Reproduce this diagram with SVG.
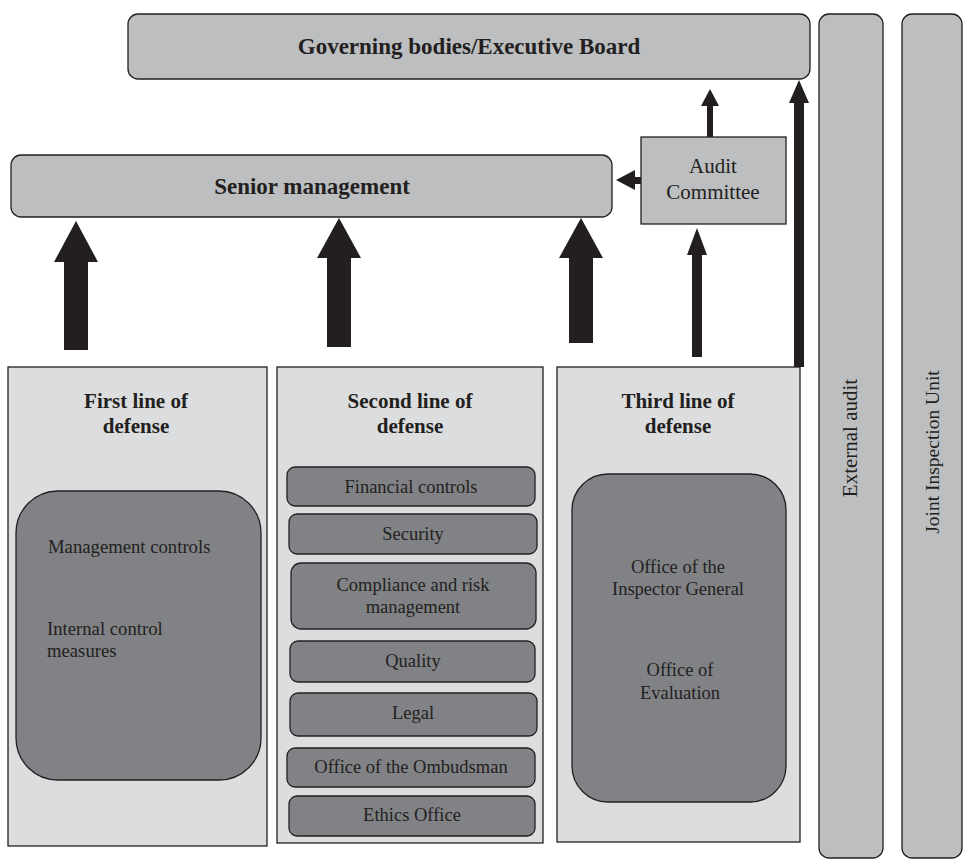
<svg xmlns="http://www.w3.org/2000/svg" width="963" height="862" viewBox="0 0 963 862">
<style>
.mid{fill:#bcbec0;stroke:#231f20;stroke-width:1.3}
.light{fill:#dcdddf;stroke:#231f20;stroke-width:1.3}
.dark{fill:#808285;stroke:#231f20;stroke-width:1.3}
.arr{fill:#231f20;stroke:none}
text{font-family:"Liberation Serif","Times New Roman",serif;fill:#231f20}
.title{font-weight:bold;font-size:23px;text-anchor:middle}
.hd{font-weight:bold;font-size:21px;text-anchor:middle}
.lbl{font-size:18.5px;text-anchor:middle}
.lft{font-size:18.7px}
</style>
<rect width="963" height="862" fill="#ffffff"/>
<g id="governing">
<rect class="mid" x="128" y="14" width="682" height="65" rx="10"/>
<text class="title" x="469" y="54">Governing bodies/Executive Board</text>
</g>
<g id="senior">
<rect class="mid" x="11" y="155" width="601" height="62" rx="10"/>
<text class="title" x="312" y="194">Senior management</text>
</g>
<g id="audit-committee">
<rect class="mid" x="641" y="137" width="145" height="87"/>
<text class="lbl" x="713" y="173" style="font-size:21px">Audit</text>
<text class="lbl" x="713" y="199" style="font-size:21px">Committee</text>
</g>
<g id="external-audit">
<rect class="mid" x="819" y="14" width="64" height="844" rx="10"/>
<text class="lbl" transform="translate(857,438) rotate(-90)" style="font-size:21px">External audit</text>
</g>
<g id="jiu">
<rect class="mid" x="902" y="14" width="60" height="844" rx="10"/>
<text class="lbl" transform="translate(939,452) rotate(-90)" style="font-size:19.5px">Joint Inspection Unit</text>
</g>
<g id="first-line">
<rect class="light" x="8" y="367" width="259" height="479"/>
<text class="hd" x="136" y="408">First line of</text>
<text class="hd" x="136" y="433">defense</text>
<rect class="dark" x="16" y="491" width="245" height="289" rx="42"/>
<text class="lft" x="48" y="553">Management controls</text>
<text class="lft" x="47" y="635">Internal control</text>
<text class="lft" x="47" y="657">measures</text>
</g>
<g id="second-line">
<rect class="light" x="277" y="367" width="266" height="476"/>
<text class="hd" x="410" y="408">Second line of</text>
<text class="hd" x="410" y="433">defense</text>
<g id="financial"><rect class="dark" x="287" y="467" width="248" height="39" rx="8"/><text class="lbl" x="411" y="493">Financial controls</text></g>
<g id="security"><rect class="dark" x="289" y="514" width="248" height="40" rx="8"/><text class="lbl" x="413" y="540">Security</text></g>
<g id="compliance"><rect class="dark" x="291" y="563" width="245" height="66" rx="10"/><text class="lbl" x="413" y="591">Compliance and risk</text><text class="lbl" x="413" y="613">management</text></g>
<g id="quality"><rect class="dark" x="290" y="641" width="245" height="41" rx="8"/><text class="lbl" x="413" y="667">Quality</text></g>
<g id="legal"><rect class="dark" x="290" y="693" width="247" height="43" rx="8"/><text class="lbl" x="413" y="719">Legal</text></g>
<g id="ombudsman"><rect class="dark" x="287" y="748" width="248" height="39" rx="8"/><text class="lbl" x="411" y="773">Office of the Ombudsman</text></g>
<g id="ethics"><rect class="dark" x="289" y="796" width="246" height="40" rx="8"/><text class="lbl" x="412" y="821">Ethics Office</text></g>
</g>
<g id="third-line">
<rect class="light" x="557" y="367" width="243" height="475"/>
<text class="hd" x="678" y="408">Third line of</text>
<text class="hd" x="678" y="433">defense</text>
<rect class="dark" x="572" y="474" width="214" height="328" rx="36"/>
<text class="lbl" x="678" y="573">Office of the</text>
<text class="lbl" x="678" y="595">Inspector General</text>
<text class="lbl" x="680" y="676">Office of</text>
<text class="lbl" x="680" y="699">Evaluation</text>
</g>
<g id="connectors">
<polygon class="arr" points="64,350 64,262 54,262 76,221 98,262 88,262 88,350"/>
<polygon class="arr" points="327,347 327,258 317,258 339,218 361,258 351,258 351,347"/>
<polygon class="arr" points="569,343 569,258 559,258 581,218 603,258 593,258 593,343"/>
<polygon class="arr" points="692,357 692,255 687,255 697,228 707,255 702,255 702,357"/>
<polygon class="arr" points="707,137 707,106 701,106 710,89 719,106 713,106 713,137"/>
<polygon class="arr" points="641,177 635,177 635,170 616,180 635,190 635,184 641,184"/>
<polygon class="arr" points="794,367 794,103 789,103 799,80 809,103 804,103 804,367"/>
</g>
</svg>
